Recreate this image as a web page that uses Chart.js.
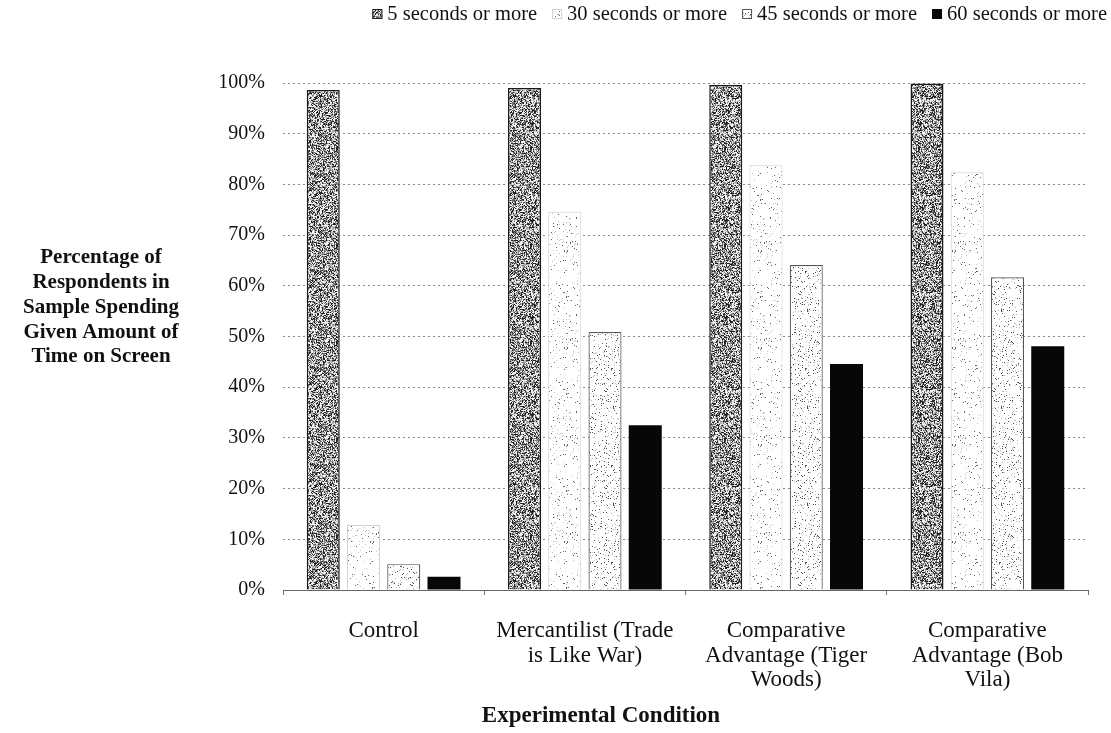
<!DOCTYPE html>
<html>
<head>
<meta charset="utf-8">
<script src="https://cdn.jsdelivr.net/npm/chart.js@4.4.0/dist/chart.umd.min.js"></script>
<style>
  html, body { margin: 0; padding: 0; background: #fff; }
  #wrap { width: 1111px; height: 733px; position: relative; }
</style>
</head>
<body>
<div id="wrap"><canvas id="chart" width="1111" height="733"></canvas></div>
<script>
// Experimental conditions (x categories, multi-line labels)
const categories = [
  ["Control"],
  ["Mercantilist (Trade", "is Like War)"],
  ["Comparative", "Advantage (Tiger", "Woods)"],
  ["Comparative", "Advantage (Bob", "Vila)"]
];
const seriesNames = ["5 seconds or more", "30 seconds or more", "45 seconds or more", "60 seconds or more"];

// Share of respondents (%) that stayed on screen at least this long
const sec5  = [98.6, 99.0, 99.6, 99.9];
const sec30 = [12.8, 74.6, 83.8, 82.4];
const sec45 = [5.1, 50.9, 64.1, 61.7];
const sec60 = [2.6, 32.5, 44.6, 48.1];

const yTicks = [0, 10, 20, 30, 40, 50, 60, 70, 80, 90, 100];
const yTitleLines = ["Percentage of", "Respondents in", "Sample Spending", "Given Amount of", "Time on Screen"];
const xTitle = "Experimental Condition";

const SERIF = '"Liberation Serif", "DejaVu Serif", serif';

// Deterministic pixel hash for the print-style speckle textures
function hash(x, y, seed) {
  let h = (Math.imul(x, 374761393) + Math.imul(y, 668265263) + Math.imul(seed, 1442695041)) | 0;
  h = Math.imul(h ^ (h >>> 13), 1274126177);
  h = h ^ (h >>> 16);
  return (h >>> 0) / 4294967296;
}

function makeTexture(seed, shade) {
  const size = 97;
  const c = document.createElement('canvas');
  c.width = size; c.height = size;
  const g = c.getContext('2d');
  const img = g.createImageData(size, size);
  for (let y = 0; y < size; y++) {
    for (let x = 0; x < size; x++) {
      const v = shade(hash(x, y, seed));
      const i = (y * size + x) * 4;
      img.data[i] = img.data[i + 1] = img.data[i + 2] = v;
      img.data[i + 3] = 255;
    }
  }
  g.putImageData(img, 0, 0);
  return g.createPattern(c, 'repeat');
}

const ctx = document.getElementById('chart').getContext('2d');

// mid-grey stipple
const tex5 = makeTexture(3, r => r < 0.27 ? 35 : r < 0.49 ? 115 : r < 0.68 ? 178 : 242);
// very light scattered dots
const tex30 = makeTexture(17, r => r < 0.02 ? 100 : r < 0.05 ? 195 : 255);
// light stipple
const tex45 = makeTexture(29, r => r < 0.045 ? 80 : r < 0.10 ? 185 : 255);
// solid black
const fill60 = '#070707';

const fills = [tex5, tex30, tex45, fill60];
const borders = ['#1a1a1a', '#d2d2d2', '#555555', '#070707'];
const borderWidths = [1.5, 1, 1.2, 0];
const seriesData = [sec5, sec30, sec45, sec60];

const datasets = seriesNames.map((name, i) => ({
  label: name,
  data: seriesData[i],
  backgroundColor: fills[i],
  borderColor: borders[i],
  borderWidth: borderWidths[i],
  borderSkipped: 'bottom',
  categoryPercentage: 0.80,
  barPercentage: 0.82
}));

// Legend drawn as one right-aligned row above the plot
const legendRow = {
  id: 'legendRow',
  afterDraw(chart) {
    const c = chart.ctx;
    c.save();
    c.font = '20.5px ' + SERIF;
    c.textBaseline = 'middle';
    const box = 10, gapIcon = 5, gapItem = 15, y = 14, right = 1107;
    const widths = seriesNames.map(t => c.measureText(t).width);
    const total = widths.reduce((a, w) => a + box + gapIcon + w, 0) + gapItem * (seriesNames.length - 1);
    let x = right - total;
    seriesNames.forEach((t, i) => {
      const top = y - box / 2;
      c.fillStyle = fills[i];
      c.fillRect(x, top, box, box);
      if (borderWidths[i] > 0) {
        c.strokeStyle = borders[i];
        c.lineWidth = 1;
        c.strokeRect(x + 0.5, top + 0.5, box - 1, box - 1);
      }
      c.fillStyle = '#111';
      c.fillText(t, x + box + gapIcon, y + 1);
      x += box + gapIcon + widths[i] + gapItem;
    });
    c.restore();
  }
};

// Horizontal, multi-line axis titles
const axisTitles = {
  id: 'axisTitles',
  afterDraw(chart) {
    const c = chart.ctx;
    c.save();
    c.fillStyle = '#111';
    c.textAlign = 'center';
    c.textBaseline = 'middle';
    c.font = 'bold 21px ' + SERIF;
    yTitleLines.forEach((t, i) => c.fillText(t, 101, 258 + i * 24.7));
    c.font = 'bold 23px ' + SERIF;
    c.fillText(xTitle, 601, 716);
    c.restore();
  }
};

new Chart(ctx, {
  type: 'bar',
  data: { labels: categories, datasets },
  options: {
    responsive: false,
    animation: false,
    events: [],
    layout: { padding: { top: 83, right: 23, bottom: 0, left: 0 } },
    plugins: { legend: { display: false }, tooltip: { enabled: false } },
    scales: {
      x: {
        offset: true,
        grid: { display: true, drawOnChartArea: false, drawTicks: true, tickLength: 5, color: '#777' },
        border: { display: true, color: '#666', width: 1 },
        ticks: {
          color: '#111',
          font: { family: SERIF, size: 23, lineHeight: 1.065 },
          padding: 24,
          maxRotation: 0,
          autoSkip: false
        },
        afterFit(scale) { scale.height = 143; }
      },
      y: {
        min: 0,
        max: 100,
        afterBuildTicks(scale) { scale.ticks = yTicks.map(v => ({ value: v })); },
        grid: { color: '#8a8a8a', lineWidth: 1, drawTicks: false },
        border: { display: false, dash: [2, 3] },
        ticks: {
          color: '#111',
          font: { family: SERIF, size: 20 },
          padding: 18,
          callback: v => v + '%'
        },
        afterFit(scale) { scale.width = 283; }
      }
    }
  },
  plugins: [legendRow, axisTitles]
});
</script>
</body>
</html>
